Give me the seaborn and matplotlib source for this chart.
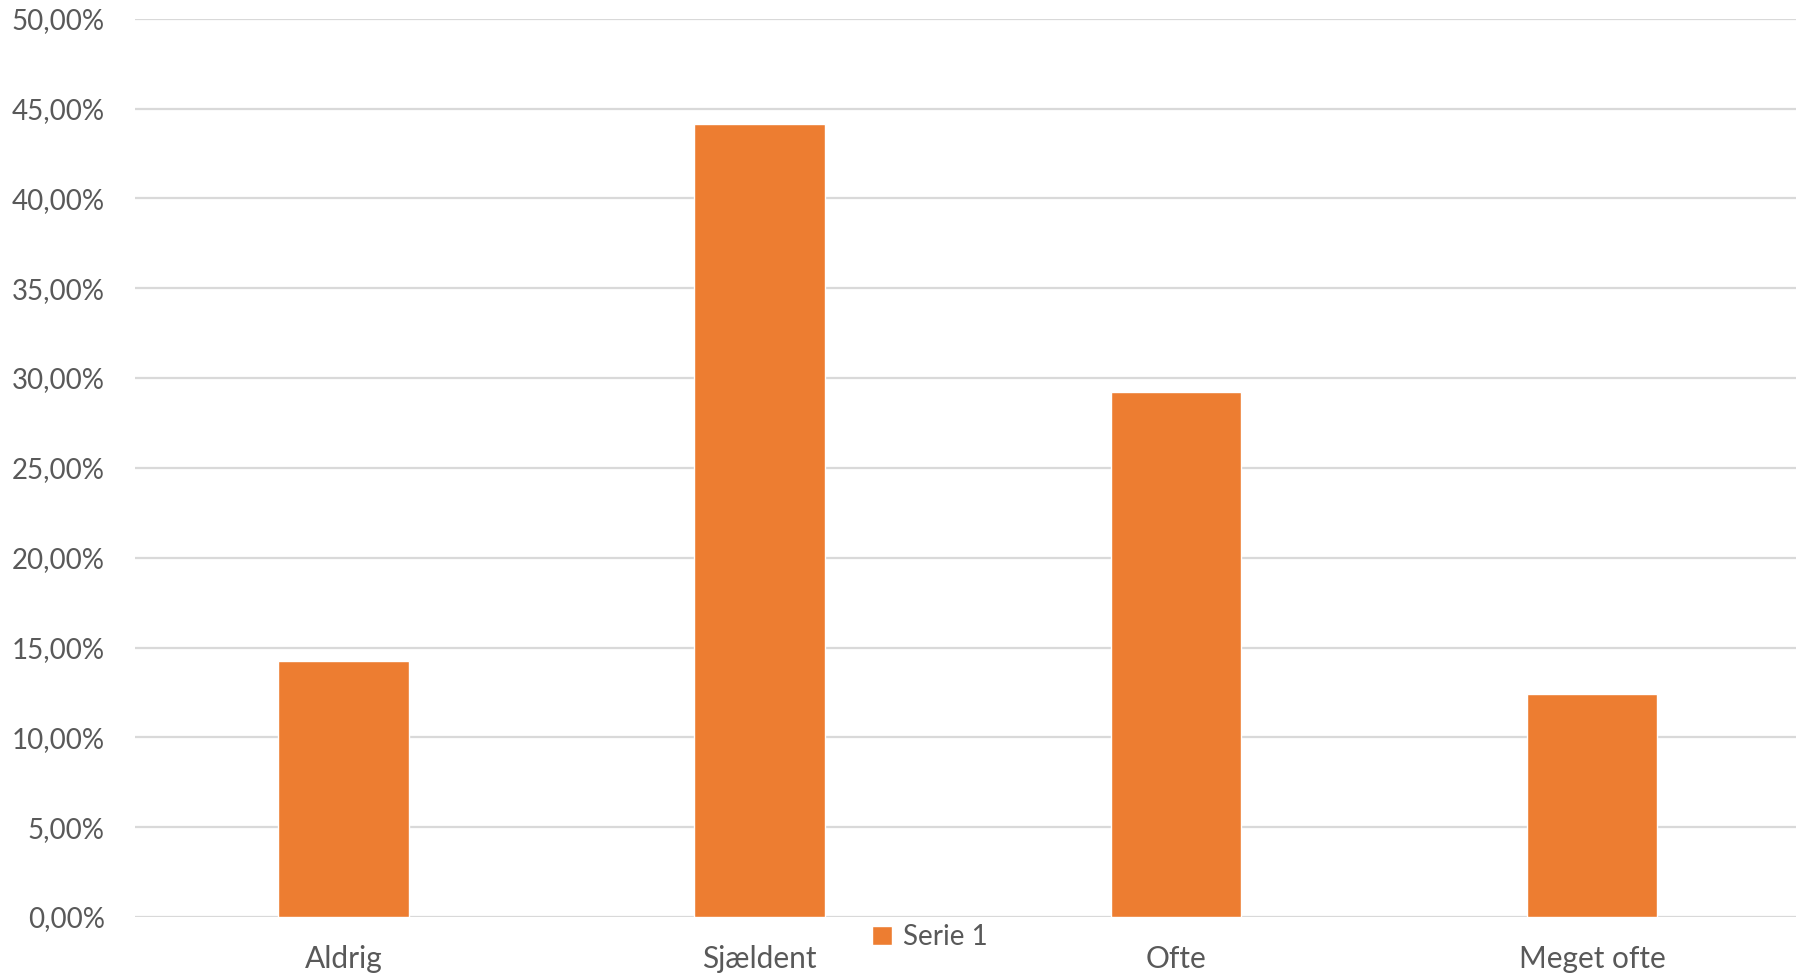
import matplotlib
matplotlib.use("Agg")
import matplotlib.pyplot as plt
import seaborn as sns
import pandas as pd
from matplotlib.ticker import FuncFormatter

categories = ["Aldrig", "Sjældent", "Ofte", "Meget ofte"]
values = [14.25, 44.15, 29.2, 12.4]
series_name = "Serie 1"
yticks = [0, 5, 10, 15, 20, 25, 30, 35, 40, 45, 50]

df = pd.DataFrame({"cat": categories, "val": values, "series": [series_name] * len(categories)})

sns.set_theme(style="white")
plt.rcParams['font.family'] = ['Lato', 'DejaVu Sans']

fig = plt.figure(figsize=(17.96, 9.75), dpi=100)
ax = fig.add_axes([135.4 / 1796, 1 - 917 / 975, 1664.6 / 1796, (917 - 18.7) / 975])

sns.barplot(data=df, x="cat", y="val", hue="series", palette=["#ED7D31"],
            width=0.313, ax=ax, saturation=1, legend=True)

ax.set_xlim(-0.5, 3.5)
ax.set_ylim(0, 50)
ax.set_yticks(yticks)
ax.yaxis.set_major_formatter(FuncFormatter(lambda v, p: f"{v:.2f}".replace(".", ",") + "%"))
ax.grid(axis="y", color="#d9d9d9", linewidth=1.6)
ax.set_axisbelow(True)
for s in ax.spines.values():
    s.set_visible(False)
ax.set_xlabel("")
ax.set_ylabel("")
ax.tick_params(axis="y", labelsize=20, colors="#595959", pad=22, length=0)
ax.tick_params(axis="x", labelsize=21.5, colors="#595959", pad=20, length=0)
for lab in ax.get_yticklabels():
    lab.set_horizontalalignment("right")

leg = ax.legend(loc="center", bbox_to_anchor=(930 / 1796, 1 - 937 / 975),
                bbox_transform=fig.transFigure, frameon=False, fontsize=20,
                handlelength=0.7, handleheight=0.7, handletextpad=0.4)
for t in leg.get_texts():
    t.set_color("#595959")

fig.savefig("out.png", dpi=100)
